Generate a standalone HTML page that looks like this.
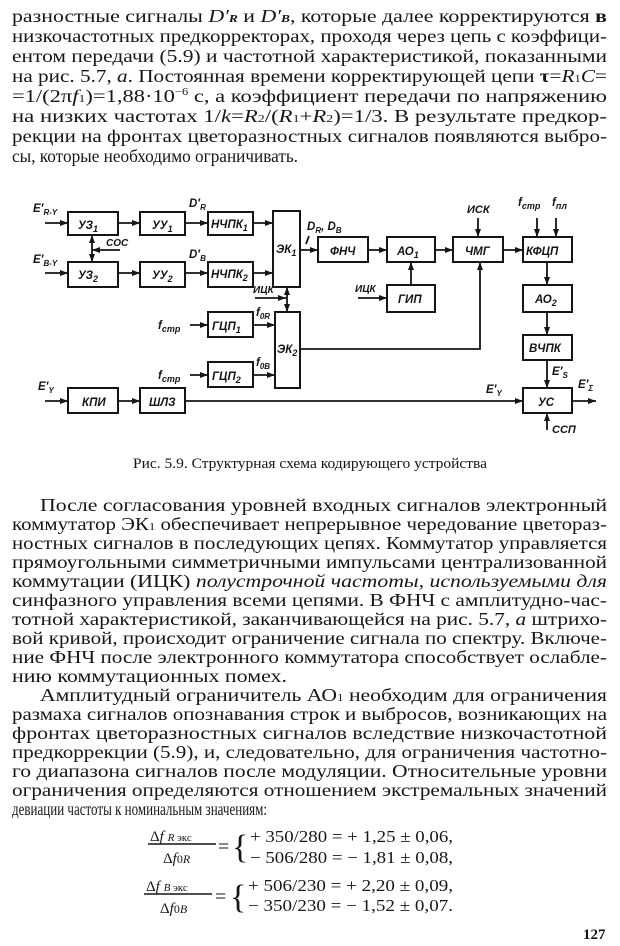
<!DOCTYPE html>
<html><head><meta charset="utf-8"><style>
html,body{margin:0;padding:0;background:#fff}
svg{display:block}
.t{font-family:"Liberation Serif","Noto Serif CJK SC",serif;font-size:18px;fill:#161616}
.c{font-family:"Liberation Serif",serif;font-size:14.5px;fill:#161616}
.b{fill:none;stroke:#151515;stroke-width:2}
.l{fill:none;stroke:#151515;stroke-width:1.8}
.d{font-family:"Liberation Sans",sans-serif;font-style:italic;font-weight:bold;font-size:11.5px;fill:#151515}
.m{font-family:"Liberation Serif",serif;font-size:17px;fill:#161616}
</style></head><body>
<svg width="620" height="946" viewBox="0 0 620 946" xmlns="http://www.w3.org/2000/svg">
<defs><marker id="a" markerWidth="8" markerHeight="6" refX="8" refY="3" orient="auto" markerUnits="userSpaceOnUse"><path d="M0,0 L8,3 L0,6 z" fill="#151515"/></marker>
<marker id="s" markerWidth="8" markerHeight="6" refX="0" refY="3" orient="auto" markerUnits="userSpaceOnUse"><path d="M8,0 L0,3 L8,6 z" fill="#151515"/></marker></defs>

<g class="t">
<text x="12" y="22" textLength="595" lengthAdjust="spacingAndGlyphs">разностные сигналы <tspan font-style="italic">D′</tspan><tspan font-size="11" font-style="italic" font-weight="bold">R</tspan> и <tspan font-style="italic">D′</tspan><tspan font-size="11" font-style="italic" font-weight="bold">B</tspan>, которые далее корректируются <tspan font-weight="bold">в</tspan></text>
<text x="12" y="42" textLength="595" lengthAdjust="spacingAndGlyphs">низкочастотных предкорректорах, проходя через цепь с коэффици-</text>
<text x="12" y="62" textLength="595" lengthAdjust="spacingAndGlyphs">ентом передачи (5.9) и частотной характеристикой, показанными</text>
<text x="12" y="82" textLength="595" lengthAdjust="spacingAndGlyphs">на рис. 5.7, <tspan font-style="italic">а</tspan>. Постоянная времени корректирующей цепи <tspan font-weight="bold">τ</tspan>=<tspan font-style="italic">R</tspan><tspan font-size="11">1</tspan><tspan font-style="italic">C</tspan>=</text>
<text x="12" y="102" textLength="595" lengthAdjust="spacingAndGlyphs">=1/(2π<tspan font-style="italic">f</tspan><tspan font-size="11">1</tspan>)=1,88·10<tspan font-size="10" dy="-7">−6</tspan><tspan dy="7"> с, а коэффициент передачи по напряжению</tspan></text>
<text x="12" y="122" textLength="595" lengthAdjust="spacingAndGlyphs">на низких частотах 1/<tspan font-style="italic">k</tspan>=<tspan font-style="italic">R</tspan><tspan font-size="11">2</tspan>/(<tspan font-style="italic">R</tspan><tspan font-size="11">1</tspan>+<tspan font-style="italic">R</tspan><tspan font-size="11">2</tspan>)=1/3. В результате предкор-</text>
<text x="12" y="142" textLength="595" lengthAdjust="spacingAndGlyphs">рекции на фронтах цветоразностных сигналов появляются выбро-</text>
<text x="12" y="162" textLength="286" lengthAdjust="spacingAndGlyphs">сы, которые необходимо ограничивать.</text>
</g>

<g class="b">
<rect x="68" y="212" width="50" height="23"/><rect x="140" y="212" width="45" height="23"/><rect x="208" y="212" width="45" height="23"/>
<rect x="68" y="262" width="50" height="25"/><rect x="140" y="262" width="45" height="25"/><rect x="208" y="262" width="45" height="25"/>
<rect x="273" y="211" width="27" height="76"/><rect x="275" y="312" width="25" height="76"/>
<rect x="208" y="312" width="45" height="25"/><rect x="208" y="362" width="45" height="25"/>
<rect x="68" y="388" width="50" height="25"/><rect x="140" y="388" width="45" height="25"/>
<rect x="318" y="237" width="50" height="25"/><rect x="387" y="237" width="48" height="25"/><rect x="453" y="237" width="50" height="25"/><rect x="523" y="237" width="49" height="25"/>
<rect x="387" y="285" width="48" height="27"/><rect x="523" y="285" width="49" height="27"/><rect x="523" y="335" width="49" height="25"/><rect x="523" y="388" width="49" height="25"/>
</g>
<g class="l" marker-end="url(#a)">
<line x1="45" y1="223" x2="68" y2="223"/><line x1="118" y1="223" x2="140" y2="223"/><line x1="185" y1="223" x2="208" y2="223"/><line x1="253" y1="223" x2="273" y2="223"/>
<line x1="45" y1="273" x2="68" y2="273"/><line x1="118" y1="273" x2="140" y2="273"/><line x1="185" y1="273" x2="208" y2="273"/><line x1="253" y1="273" x2="273" y2="273"/>
<line x1="120" y1="250" x2="92" y2="250"/>
<line x1="255" y1="298" x2="286" y2="298"/>
<line x1="190" y1="325" x2="208" y2="325"/><line x1="253" y1="325" x2="275" y2="325"/>
<line x1="190" y1="375" x2="208" y2="375"/><line x1="253" y1="375" x2="275" y2="375"/>
<line x1="45" y1="401" x2="68" y2="401"/><line x1="118" y1="401" x2="140" y2="401"/>
<line x1="185" y1="401" x2="523" y2="401"/>
<line x1="300" y1="250" x2="318" y2="250"/><line x1="368" y1="250" x2="387" y2="250"/><line x1="435" y1="250" x2="453" y2="250"/><line x1="503" y1="250" x2="523" y2="250"/>
<line x1="411" y1="285" x2="411" y2="262"/><line x1="358" y1="298" x2="387" y2="298"/>
<line x1="478" y1="218" x2="478" y2="237"/><line x1="537" y1="218" x2="537" y2="237"/><line x1="556" y1="218" x2="556" y2="237"/>
<line x1="547" y1="262" x2="547" y2="285"/><line x1="547" y1="312" x2="547" y2="335"/><line x1="547" y1="360" x2="547" y2="388"/>
<line x1="572" y1="401" x2="596" y2="401"/><line x1="547" y1="430" x2="547" y2="413"/>
<polyline points="300,349 480,349 480,262"/>
</g>
<g class="l" marker-end="url(#a)" marker-start="url(#s)">
<line x1="92" y1="235" x2="92" y2="262"/><line x1="287" y1="287" x2="287" y2="312"/>
</g>
<line class="l" x1="306" y1="244" x2="309" y2="236"/>
<g class="d">
<text x="78" y="229">УЗ<tspan font-size="9" dy="3">1</tspan></text><text x="152" y="229">УУ<tspan font-size="9" dy="3">1</tspan></text><text x="211" y="228">НЧПК<tspan font-size="9" dy="3">1</tspan></text>
<text x="78" y="279">УЗ<tspan font-size="9" dy="3">2</tspan></text><text x="152" y="279">УУ<tspan font-size="9" dy="3">2</tspan></text><text x="211" y="278">НЧПК<tspan font-size="9" dy="3">2</tspan></text>
<text x="276" y="253">ЭК<tspan font-size="9" dy="3">1</tspan></text><text x="277" y="353">ЭК<tspan font-size="9" dy="3">2</tspan></text>
<text x="212" y="330">ГЦП<tspan font-size="9" dy="3">1</tspan></text><text x="212" y="380">ГЦП<tspan font-size="9" dy="3">2</tspan></text>
<text x="82" y="406">КПИ</text><text x="149" y="406">ШЛЗ</text>
<text x="330" y="255">ФНЧ</text><text x="397" y="255">АО<tspan font-size="9" dy="3">1</tspan></text><text x="465" y="255">ЧМГ</text><text x="526" y="255">КФЦП</text>
<text x="398" y="303">ГИП</text><text x="535" y="303">АО<tspan font-size="9" dy="3">2</tspan></text><text x="529" y="352">ВЧПК</text><text x="538" y="406">УС</text>
<text x="33" y="212">E′<tspan font-size="8" dy="3">R-Y</tspan></text><text x="33" y="263">E′<tspan font-size="8" dy="3">B-Y</tspan></text><text x="38" y="390">E′<tspan font-size="8" dy="3">Y</tspan></text>
<text x="106" y="246" font-size="10">СОС</text>
<text x="189" y="207">D′<tspan font-size="8" dy="3">R</tspan></text><text x="189" y="258">D′<tspan font-size="8" dy="3">B</tspan></text>
<text x="253" y="293" font-size="10">ИЦК</text><text x="355" y="292" font-size="10">ИЦК</text>
<text x="307" y="230">D<tspan font-size="8" dy="3">R</tspan><tspan dy="-3">, D</tspan><tspan font-size="8" dy="3">B</tspan></text>
<text x="158" y="329">f<tspan font-size="9" dy="3">стр</tspan></text><text x="158" y="379">f<tspan font-size="9" dy="3">стр</tspan></text>
<text x="256" y="316">f<tspan font-size="8" dy="3">0R</tspan></text><text x="256" y="366">f<tspan font-size="8" dy="3">0B</tspan></text>
<text x="467" y="213" font-size="11">ИСК</text>
<text x="518" y="206">f<tspan font-size="9" dy="3">стр</tspan></text><text x="552" y="206">f<tspan font-size="9" dy="3">пл</tspan></text>
<text x="552" y="375">E′<tspan font-size="8" dy="3">S</tspan></text><text x="578" y="388">E′<tspan font-size="8" dy="3">Σ</tspan></text><text x="486" y="393">E′<tspan font-size="8" dy="3">Y</tspan></text>
<text x="552" y="433" font-size="11">ССП</text>
</g>

<text class="c" x="133" y="468" textLength="354" lengthAdjust="spacingAndGlyphs">Рис. 5.9. Структурная схема кодирующего устройства</text>

<g class="t">
<text x="40" y="511" textLength="567" lengthAdjust="spacingAndGlyphs">После согласования уровней входных сигналов электронный</text>
<text x="12" y="530" textLength="595" lengthAdjust="spacingAndGlyphs">коммутатор ЭК<tspan font-size="11">1</tspan> обеспечивает непрерывное чередование цветораз-</text>
<text x="12" y="549" textLength="595" lengthAdjust="spacingAndGlyphs">ностных сигналов в последующих цепях. Коммутатор управляется</text>
<text x="12" y="568" textLength="595" lengthAdjust="spacingAndGlyphs">прямоугольными симметричными импульсами централизованной</text>
<text x="12" y="587" textLength="595" lengthAdjust="spacingAndGlyphs">коммутации (ИЦК) <tspan font-style="italic">полустрочной частоты, используемыми для</tspan></text>
<text x="12" y="606" textLength="595" lengthAdjust="spacingAndGlyphs">синфазного управления всеми цепями. В ФНЧ с амплитудно-час-</text>
<text x="12" y="625" textLength="595" lengthAdjust="spacingAndGlyphs">тотной характеристикой, заканчивающейся на рис. 5.7, <tspan font-style="italic">а</tspan> штрихо-</text>
<text x="12" y="644" textLength="595" lengthAdjust="spacingAndGlyphs">вой кривой, происходит ограничение сигнала по спектру. Включе-</text>
<text x="12" y="663" textLength="595" lengthAdjust="spacingAndGlyphs">ние ФНЧ после электронного коммутатора способствует ослабле-</text>
<text x="12" y="682" textLength="275" lengthAdjust="spacingAndGlyphs">нию коммутационных помех.</text>
<text x="40" y="701" textLength="567" lengthAdjust="spacingAndGlyphs">Амплитудный ограничитель АО<tspan font-size="11">1</tspan> необходим для ограничения</text>
<text x="12" y="720" textLength="595" lengthAdjust="spacingAndGlyphs">размаха сигналов опознавания строк и выбросов, возникающих на</text>
<text x="12" y="739" textLength="595" lengthAdjust="spacingAndGlyphs">фронтах цветоразностных сигналов вследствие низкочастотной</text>
<text x="12" y="758" textLength="595" lengthAdjust="spacingAndGlyphs">предкоррекции (5.9), и, следовательно, для ограничения частотно-</text>
<text x="12" y="777" textLength="595" lengthAdjust="spacingAndGlyphs">го диапазона сигналов после модуляции. Относительные уровни</text>
<text x="12" y="796" textLength="595" lengthAdjust="spacingAndGlyphs">ограничения определяются отношением экстремальных значений</text>
<text x="12" y="815" textLength="255" lengthAdjust="spacingAndGlyphs">девиации частоты к номинальным значениям:</text>
</g>

<g class="m">
<text x="150" y="841" font-size="15">Δ<tspan font-style="italic">f</tspan> <tspan font-size="11" font-style="italic">R</tspan><tspan font-size="11"> экс</tspan></text>
<line x1="148" y1="844" x2="216" y2="844" stroke="#151515" stroke-width="1.5"/>
<text x="163" y="863" font-size="15">Δ<tspan font-style="italic">f</tspan><tspan font-size="12">0<tspan font-style="italic">R</tspan></tspan></text>
<text x="218" y="853" font-size="20">=</text>
<text x="232" y="858" font-size="34" font-weight="100">{</text>
<text x="250" y="842" textLength="203" lengthAdjust="spacingAndGlyphs">+ 350/280 = + 1,25 ± 0,06,</text>
<text x="250" y="863" textLength="203" lengthAdjust="spacingAndGlyphs">− 506/280 = − 1,81 ± 0,08,</text>
<text x="146" y="891" font-size="15">Δ<tspan font-style="italic">f</tspan> <tspan font-size="11" font-style="italic">B</tspan><tspan font-size="11"> экс</tspan></text>
<line x1="144" y1="894" x2="212" y2="894" stroke="#151515" stroke-width="1.5"/>
<text x="160" y="913" font-size="15">Δ<tspan font-style="italic">f</tspan><tspan font-size="12">0<tspan font-style="italic">B</tspan></tspan></text>
<text x="215" y="903" font-size="20">=</text>
<text x="230" y="908" font-size="34" font-weight="100">{</text>
<text x="248" y="891" textLength="205" lengthAdjust="spacingAndGlyphs">+ 506/230 = + 2,20 ± 0,09,</text>
<text x="248" y="911" textLength="205" lengthAdjust="spacingAndGlyphs">− 350/230 = − 1,52 ± 0,07.</text>
<text x="583" y="939" font-weight="bold" font-size="15">127</text>
</g>
</svg>
</body></html>
